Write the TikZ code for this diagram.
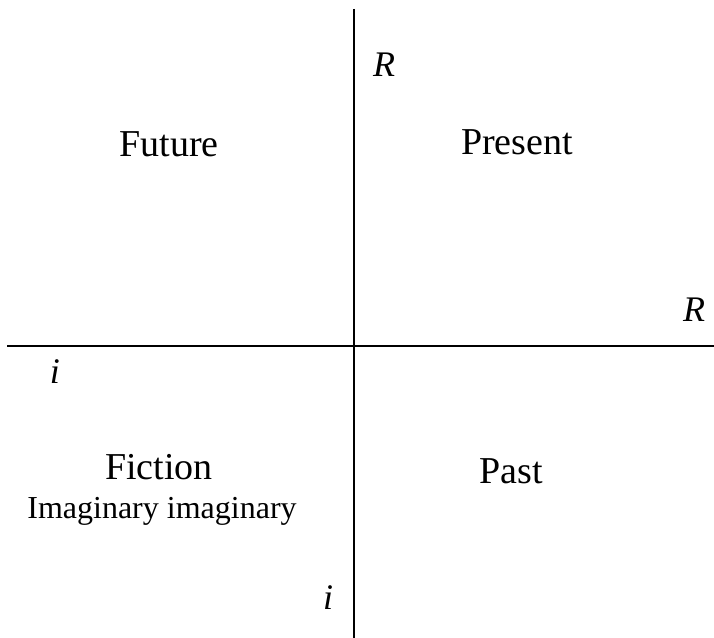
\documentclass[tikz,border=0pt]{standalone}
\usepackage{fontspec}
\setmainfont{Liberation Serif}
\usetikzlibrary{positioning}

\begin{document}
\begin{tikzpicture}[
  x=1bp, y=-1bp,
  axis/.style={draw, line width=1.8bp},
  lbl/.style={anchor=base, inner sep=0pt, font=\fontsize{38bp}{42bp}\selectfont},
  sub/.style={anchor=base, inner sep=0pt, font=\fontsize{32bp}{35bp}\selectfont},
  unit/.style={anchor=base, inner sep=0pt, font=\fontsize{36bp}{40bp}\selectfont\itshape},
]
\useasboundingbox (0,0) rectangle (714,638);

% ============ axes ============
\coordinate (top) at (354,9);
\coordinate (bot) at (354,638);
\coordinate (lft) at (7,346);
\coordinate (rgt) at (714,346);
\draw[axis] (top) -- (bot);
\draw[axis] (lft) -- (rgt);

% ============ quadrants ============
\node[lbl] (future) at (169,157) {Future};
\node[lbl] (present) at (517,155) {Present};
\node[lbl] (fiction) at (159,479) {Fiction};
\node[sub] (imag) at (162,518) {Imaginary imaginary};
\node[lbl] (past) at (511,483) {Past};

% ============ axis labels ============
\node[unit] (rtop) at (384,77) {R};
\node[unit] (rright) at (694,321) {R};
\node[unit] (ileft) at (55,383) {i};
\node[unit] (ibot) at (328,609) {i};

\end{tikzpicture}
\end{document}
